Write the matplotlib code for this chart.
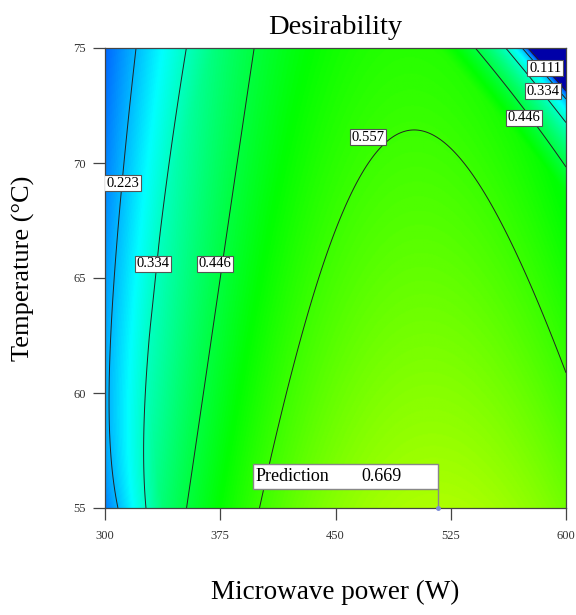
import numpy as np
import matplotlib
matplotlib.use("Agg")
import matplotlib.pyplot as plt
from matplotlib.colors import LinearSegmentedColormap, Normalize
from matplotlib.patches import Rectangle

plt.rcParams['font.family'] = ['Liberation Serif', 'DejaVu Serif']

# factor ranges
power_range = [300, 600]    # W
temp_range = [55, 75]       # deg C

# desirability model in coded units x = (W - 450) / 150, y = (T - 65) / 10
ridge_height = [0.597, -0.066, 0.006]      # peak value along the ridge, in y
ridge_center = [0.38, -0.06]               # x position of the ridge, in y
ridge_curv = [0.195, 0.006]                # fall-off across the ridge, in y
left_edge = [-0.7876, 0.1135, 0.151]       # low-power limit, in y
left_width = [0.94, 0.53]
corner_dir = [0.748, 0.663]                # high-power / high-temperature limit
corner_edge, corner_width, corner_power = 1.29, 0.29, 0.3

contour_levels = [0.111, 0.223, 0.334, 0.446, 0.557]
power_ticks = [300, 375, 450, 525, 600]
temp_ticks = [55, 60, 65, 70, 75]
pred_power, pred_temp, pred_value = 517.0, 55.0, 0.669


def desirability(W, T):
    x = (W - 450) / 150
    y = (T - 65) / 10
    peak = np.polyval(ridge_height[::-1], y)
    center = np.polyval(ridge_center[::-1], y)
    curv = np.polyval(ridge_curv[::-1], y)
    d = peak - curv * (x - center) ** 2
    edge = np.polyval(left_edge[::-1], y)
    width = np.polyval(left_width[::-1], y)
    d = d * np.sqrt(np.clip(1 - (edge - x) / width, 0, 1))
    s = corner_dir[0] * x + corner_dir[1] * y
    d = d * np.clip((corner_edge - s) / corner_width, 0, 1) ** corner_power
    return np.clip(d, 0, 1)


pw = np.linspace(power_range[0], power_range[1], 500)
tp = np.linspace(temp_range[0], temp_range[1], 500)
PW, TP = np.meshgrid(pw, tp)
D = desirability(PW, TP)

# blue -> cyan -> green -> yellow -> red, over 0..1
cmap = LinearSegmentedColormap.from_list(
    "desir", [(0.0, "#0000a8"), (0.12, "#0040ff"), (0.28, "#00ffff"),
              (0.5, "#00ff00"), (0.75, "#ffff00"), (1.0, "#ff0000")])

fig = plt.figure(figsize=(5.76, 6.15), dpi=100)
ax = fig.add_axes([105 / 576, 107 / 615, 461 / 576, 460 / 615])

ax.imshow(D, origin="lower", extent=power_range + temp_range, aspect="auto",
          cmap=cmap, norm=Normalize(0, 1), interpolation="bilinear")
ax.contour(PW, TP, D, levels=contour_levels, colors="#222222", linewidths=0.7)

# contour labels
box = dict(boxstyle="square,pad=0.12", fc="white", ec="#555555", lw=0.8)
label_spots = [(0.111, 586.5, 74.13), (0.334, 585.1, 73.13), (0.446, 572.8, 71.96),
               (0.557, 471.2, 71.13), (0.223, 311.5, 69.13), (0.334, 331.2, 65.61),
               (0.446, 371.6, 65.61)]
for lev, x, y in label_spots:
    ax.text(x, y, f"{lev:.3f}", ha="center", va="center", fontsize=10.5,
            bbox=box, zorder=5, clip_on=True)

# prediction flag
ax.add_patch(Rectangle((pred_power - 121, pred_temp + 0.83), 121, 1.08,
                       fc="white", ec="#888888", lw=1.0, zorder=6, clip_on=False))
ax.plot([pred_power, pred_power], [pred_temp, pred_temp + 0.83], color="#888888",
        lw=1.0, zorder=6, clip_on=False)
ax.plot([pred_power], [pred_temp], "o", ms=2.5, color="#7b8cd6", zorder=7, clip_on=False)
ax.text(pred_power - 119, pred_temp + 1.37, "Prediction", fontsize=13,
        va="center", ha="left", zorder=7)
ax.text(pred_power - 50, pred_temp + 1.37, f"{pred_value:.3f}", fontsize=13,
        va="center", ha="left", zorder=7)

ax.set_xlim(power_range)
ax.set_ylim(temp_range)
ax.set_xticks(power_ticks)
ax.set_yticks(temp_ticks)
ax.tick_params(direction="out", length=8.5, width=0.9, color="#444444",
               labelsize=9, labelcolor="#333333")
ax.tick_params(axis="x", pad=7)
ax.tick_params(axis="y", pad=5)
for s in ax.spines.values():
    s.set_color("#444444")
    s.set_linewidth(0.9)

ax.set_title("Desirability", fontsize=20.5, pad=10)
fig.text(335 / 576, 1 - 592 / 615, "Microwave power (W)", fontsize=19.5,
         ha="center", va="center")
fig.text(23 / 576, 1 - 268 / 615, "Temperature (\u00b0C)", fontsize=19,
         ha="center", va="center", rotation=90)

fig.savefig("out.png", dpi=100)
